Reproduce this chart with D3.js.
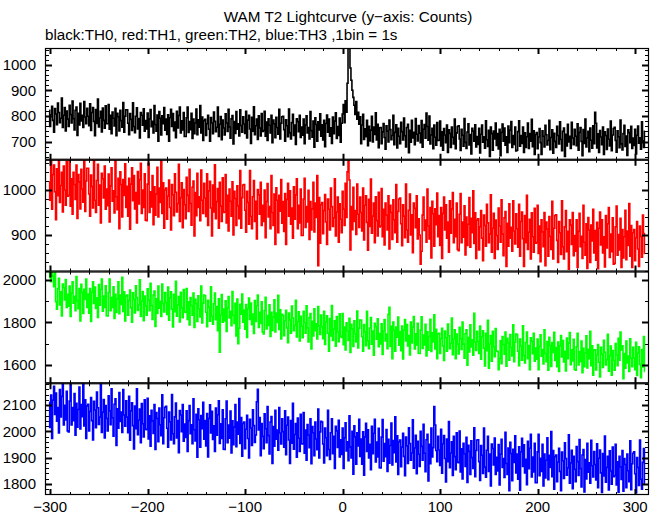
<!DOCTYPE html>
<html><head><meta charset="utf-8">
<script src="https://cdn.jsdelivr.net/npm/d3@7/dist/d3.min.js"></script>
<style>body{margin:0;background:#fff}svg text{font-family:"Liberation Sans",Arial,sans-serif;fill:#000}</style>
</head><body><svg id="c" width="661" height="515"></svg>
<script>
// time of first 1-s bin (seconds from trigger)
const tStart = -301;

const th0 = [
822,759,805,838,783,737,829,808,766,851,814,774,791,870,755,803,833,742,819,788,
759,842,806,773,859,790,746,822,835,724,811,765,850,781,803,755,857,796,770,830,
799,762,848,744,814,833,779,723,825,771,866,757,792,818,738,831,783,752,840,770,
770,845,748,803,731,816,791,761,830,723,811,797,742,822,782,756,853,737,799,824,
824,772,727,810,787,744,852,759,735,799,832,749,790,714,814,803,764,828,741,782,
749,812,716,789,825,758,779,734,841,767,741,804,702,817,791,726,801,770,833,745,
788,728,805,702,793,826,759,810,743,776,715,818,753,802,835,734,781,746,814,720,
720,793,835,736,778,747,811,712,788,731,773,827,727,785,756,841,734,796,704,782,
787,724,770,803,748,702,794,773,731,816,779,739,756,835,720,768,798,707,784,753,
726,809,773,740,826,757,713,789,802,691,778,732,817,748,770,722,824,763,737,797,
769,732,818,714,784,803,749,693,795,741,836,727,762,788,708,801,753,722,810,740,
743,818,721,776,704,789,764,734,803,696,784,770,715,795,755,729,826,710,772,797,
799,747,702,785,762,719,827,734,710,774,807,724,765,689,789,778,739,803,716,757,
725,788,692,765,801,734,755,710,817,743,717,780,678,793,767,702,777,746,809,721,
766,706,783,680,771,804,737,788,721,754,693,796,731,780,813,712,759,724,792,698,
772,808,845,774,860,815,928,1095,1070,988,940,901,873,842,806,857,788,815,768,797,
692,765,807,708,750,719,783,684,760,703,745,799,699,757,728,813,706,768,676,754,
755,692,738,771,716,670,762,741,699,784,747,707,724,803,688,736,766,675,752,721,
692,775,739,706,792,723,679,755,768,657,744,698,783,714,736,688,790,729,703,763,
733,696,782,678,748,767,713,812,759,705,800,691,726,752,672,765,717,686,774,704,
705,780,683,738,666,751,726,696,765,658,746,732,677,757,717,691,788,672,734,759,
762,710,665,748,725,682,790,697,673,737,770,687,728,652,752,741,702,766,679,720,
689,752,656,729,765,698,719,674,781,707,681,744,642,757,731,666,741,710,773,685,
731,671,748,645,736,769,702,753,686,719,658,761,696,745,778,677,724,689,757,663,
666,739,781,682,724,693,757,658,734,677,719,773,673,731,702,787,680,742,650,728,
735,672,718,751,696,650,742,721,679,764,727,687,704,783,668,716,746,655,732,701,
677,760,724,691,777,708,664,740,753,642,729,683,768,699,721,673,775,714,688,748,
721,684,770,666,736,755,701,645,747,693,788,679,714,740,660,753,705,674,762,692,
815,772,675,730,658,743,718,688,757,650,738,724,669,749,709,683,780,664,726,751,
756,704,659,742,719,676,784,691,667,731,764,681,722,646,746,735,696,760,673,714,
685,748,652,725,761,694,715,670,777,703,677,740];

const th1 = [
1018,977,1072,957,1034,1055,996,934,1047,987,1092,972,1010,1039,951,1053,1000,966,1063,986,
988,1071,964,1025,946,1039,1012,979,1055,937,1034,1018,958,1046,1002,973,1080,952,1020,1048,
1048,991,942,1033,1008,960,1079,977,950,1021,1057,966,1011,927,1037,1025,982,1053,957,1002,
965,1035,929,1009,1049,975,998,949,1067,985,956,1026,914,1040,1012,940,1023,988,1058,961,
1008,942,1026,913,1013,1049,976,1032,958,994,927,1041,969,1023,1059,948,1000,961,1036,933,
932,1013,1059,950,996,962,1032,923,1007,944,991,1050,940,1004,972,1065,948,1016,915,1000,
1004,935,986,1022,961,911,1012,989,943,1036,995,951,970,1057,930,983,1016,916,1001,967,
936,1028,988,952,1046,970,922,1006,1020,898,994,943,1037,961,985,932,1044,977,948,1015,
982,941,1036,921,998,1019,960,898,1011,951,1056,936,974,1003,915,1017,964,930,1027,950,
951,1034,927,988,909,1002,975,942,1018,900,997,981,921,1009,965,936,1043,915,983,1011,
1012,955,906,997,972,924,1043,941,914,985,1021,930,975,891,1001,989,946,1017,921,966,
930,1000,894,974,1014,940,963,914,1032,950,921,991,879,1005,977,905,988,953,1023,926,
974,908,992,879,979,1015,942,998,924,960,893,1007,935,989,1025,914,966,927,1002,899,
899,980,1026,917,963,929,999,890,974,911,958,1017,907,971,939,1032,832,983,882,967,
972,903,954,990,929,879,980,957,911,1004,963,919,938,1025,898,951,984,884,969,935,
905,997,957,921,1015,939,1040,1064,1022,867,963,912,1006,930,954,901,1013,946,917,984,
950,909,1004,889,966,987,928,866,979,919,1024,904,942,971,883,985,932,898,995,918,
920,1003,896,957,878,971,944,911,987,869,966,950,890,978,934,905,1012,884,952,980,
982,925,876,967,942,894,1013,911,884,955,991,900,945,861,971,959,916,987,891,936,
900,835,864,944,984,910,933,884,1002,920,891,961,849,975,947,875,958,923,993,896,
943,877,961,848,948,984,911,967,893,929,862,976,904,958,994,883,935,896,971,868,
865,946,992,883,929,895,965,856,940,877,924,983,873,937,905,998,881,949,848,933,
936,867,918,954,893,843,944,921,875,968,927,883,902,989,862,915,948,848,933,899,
868,960,920,884,978,902,854,938,952,830,926,875,969,893,917,864,976,909,880,947,
914,873,968,853,930,951,892,830,943,883,988,868,906,935,847,949,896,862,959,882,
883,966,859,920,841,934,907,874,950,832,929,913,853,941,897,868,975,847,915,943,
945,888,839,930,905,857,976,874,847,918,954,863,908,824,934,922,879,950,854,899,
864,934,828,908,948,874,897,848,966,884,855,925,826,939,911,839,922,887,957,860,
910,844,928,825,915,951,878,934,860,896,829,943,871,925,961,850,902,863,938,835,
837,918,964,855,901,867,937,828,912,849,896,955,845,909,877,970,853,921,828,905,
912,843,894,930,869,830,920,897,851,944,903,859];

const th2 = [
2012,2036,1992,2045,2018,1968,2038,1898,1862,1959,2008,1883,1945,1831,1981,1965,1906,2002,1871,1933,
1877,1972,1828,1938,1992,1891,1923,1855,2016,1904,1865,1960,1807,1980,1941,1843,1956,1909,2004,1871,
1934,1844,1960,1805,1942,1991,1890,1967,1866,1916,1824,1979,1881,1955,2005,1853,1924,1871,1973,1832,
1831,1941,2004,1855,1918,1871,1968,1819,1933,1847,1911,1992,1841,1929,1885,2013,1852,1945,1807,1924,
1929,1834,1904,1953,1870,1801,1940,1908,1845,1973,1917,1857,1882,2001,1828,1901,1946,1809,1925,1878,
1834,1959,1905,1855,1984,1880,1814,1929,1948,1781,1912,1843,1971,1867,1900,1828,1981,1890,1850,1941,
1894,1838,1967,1811,1916,1945,1863,1779,1933,1851,1994,1830,1883,1922,1802,1942,1869,1823,1955,1850,
1847,1960,1814,1897,1789,1917,1879,1834,1938,1777,1909,1888,1805,1926,1865,1826,1972,1798,1891,1929,
1926,1848,1780,1905,1871,1806,1968,1828,1792,1889,1938,1813,1875,1761,1911,1660,1836,1932,1801,1863,
1807,1902,1758,1868,1922,1821,1853,1785,1946,1834,1795,1890,1737,1910,1700,1773,1886,1839,1934,1801,
1858,1768,1884,1729,1866,1915,1814,1891,1790,1840,1748,1903,1805,1879,1929,1777,1848,1795,1897,1756,
1746,1856,1919,1770,1833,1786,1883,1734,1848,1762,1826,1907,1756,1844,1800,1928,1767,1860,1722,1839,
1833,1738,1808,1857,1774,1705,1844,1812,1749,1877,1821,1761,1786,1905,1732,1805,1850,1713,1829,1782,
1728,1853,1799,1749,1878,1774,1708,1823,1842,1675,1806,1737,1865,1761,1794,1722,1875,1784,1744,1835,
1780,1724,1853,1697,1802,1831,1749,1665,1819,1737,1880,1716,1769,1808,1688,1828,1755,1709,1841,1736,
1729,1842,1696,1779,1671,1799,1761,1716,1820,1659,1791,1770,1687,1808,1747,1708,1854,1680,1773,1811,
1811,1733,1665,1790,1756,1691,1853,1713,1677,1774,1823,1698,1760,1646,1796,1780,1721,1817,1686,1748,
1699,1794,1650,1760,1814,1713,1745,1677,1838,1871,1687,1782,1629,1802,1763,1665,1778,1731,1826,1693,
1757,1667,1783,1628,1765,1814,1713,1790,1689,1739,1647,1802,1704,1778,1828,1676,1747,1694,1796,1655,
1654,1764,1827,1678,1741,1694,1791,1642,1756,1670,1734,1815,1664,1752,1708,1836,1675,1768,1630,1747,
1749,1654,1724,1773,1690,1621,1760,1728,1665,1793,1737,1677,1702,1821,1648,1721,1766,1629,1745,1698,
1652,1777,1723,1673,1802,1698,1632,1747,1766,1599,1730,1661,1789,1685,1718,1646,1843,1708,1668,1759,
1710,1654,1783,1627,1732,1761,1679,1595,1749,1667,1810,1585,1699,1738,1618,1758,1685,1639,1771,1666,
1664,1578,1631,1714,1606,1734,1696,1651,1755,1594,1726,1705,1622,1743,1682,1643,1789,1615,1708,1746,
1743,1665,1597,1722,1688,1623,1785,1645,1609,1706,1755,1630,1692,1578,1728,1712,1653,1749,1618,1680,
1627,1722,1578,1688,1742,1641,1673,1605,1766,1654,1615,1710,1575,1730,1691,1593,1706,1659,1754,1621,
1682,1592,1708,1570,1690,1739,1638,1715,1614,1664,1572,1727,1629,1703,1753,1601,1672,1619,1721,1580,
1576,1686,1749,1600,1663,1616,1713,1564,1678,1592,1656,1737,1586,1674,1630,1758,1597,1690,1552,1669,
1672,1577,1647,1696,1613,1544,1683,1651,1588,1716,1660,1600,1625,1744,1571,1644,1689,1552,1668,1621,
1576,1701,1647,1597,1726,1622,1755,1671,1690,1535,1654,1585,1713,1609,1642,1570,1723,1632,1592,1683,
1634,1578,1707,1551,1656,1685,1603,1540,1673,1591,1734,1570];

const th3 = [
2111,2015,2138,1973,2119,2171,2064,2146,2039,2091,1994,2159,2055,2133,2186,2024,2099,2043,2152,2002,
1998,2115,2182,2024,2091,2041,2144,1985,2107,2016,2083,2169,2009,2102,2056,2192,2021,2120,1973,2097,
2103,2002,2076,2129,2041,1967,2114,2081,2014,2150,2090,2026,2054,2180,1996,2073,2121,1975,2098,2049,
2002,2135,2078,2025,2162,2052,1982,2103,2124,1946,2086,2012,2148,2038,2073,1996,2159,2062,2020,2116,
2054,1995,2133,1966,2078,2109,2022,1933,2096,2010,2162,1987,2043,2085,1957,2106,2029,1979,2120,2008,
2006,2126,1971,2059,1944,2080,2040,1992,2102,1931,2072,2049,1961,2089,2025,1984,2139,1953,2052,2092,
2095,2012,1940,2073,2036,1967,2140,1991,1953,2055,2108,1975,2041,1919,2079,2062,1999,2102,1963,2028,
1977,2078,1924,2041,2098,1991,2025,1953,2124,2006,1964,2065,1902,2086,2044,1940,2060,2010,2111,1970,
2041,1945,2068,1903,2049,2101,1994,2076,1969,2021,1924,2089,1985,2063,2116,1954,2029,1973,2082,1932,
1931,2048,2115,1957,2024,1974,2077,1918,2040,1949,2016,2102,1942,2035,1989,2125,1954,2053,1906,2030,
2035,1934,2008,2061,1973,1899,2046,2013,1946,2082,2022,1958,1986,2112,2160,2005,2053,1907,2030,1981,
1934,2067,2010,1957,2094,1984,1914,2035,2056,1878,2018,1944,2080,1970,2005,1928,2091,1994,1952,2048,
1999,1940,2078,1911,2023,2054,1967,1878,2041,1955,2107,1932,1988,2030,1902,2051,1974,1924,2065,1953,
1952,2072,1917,2005,1890,2026,1986,1938,2048,1877,2018,1995,1907,2035,1971,1930,2085,1899,1998,2038,
2035,1952,1880,2013,1976,1907,2080,1931,1893,1995,2048,1915,1981,1859,2019,2002,1939,2042,1903,1968,
1912,2013,1859,1976,2033,1926,1960,1888,2059,1941,1899,2000,1837,2021,1979,1875,1995,1945,2046,1905,
1971,1875,1998,1833,1979,2031,1924,2006,1899,1951,1854,2019,1915,1993,2046,1884,1959,1903,2012,1862,
1861,1978,2045,1887,1954,1904,2007,1848,1970,1879,1946,2032,1872,1965,1919,2055,1884,1983,1836,1960,
1967,1866,1940,1993,1905,1831,1978,1945,1878,2014,1954,1890,1918,2044,1860,1937,1985,1839,1962,1913,
1867,2000,1943,1890,2027,1917,1847,1968,1989,1811,1951,1877,2013,1903,1938,2094,2024,1927,1885,1981,
1929,1870,2008,1841,1953,1984,1897,1808,1971,1885,2037,1862,1918,1960,1832,1981,1904,1854,1995,1883,
1881,2001,1846,1934,1819,1955,1915,1867,1977,1806,1947,1924,1836,1964,1900,1859,2014,1828,1927,1967,
1968,1885,1813,1946,1909,1840,2013,1864,1826,1928,1981,1848,1914,1792,1952,1935,1872,1975,1836,1901,
1849,1950,1796,1913,1970,1863,1897,1825,1996,1878,1836,1937,1774,1958,1916,1812,1932,1882,1983,1842,
1914,1818,1941,1776,1922,1974,1867,1949,1842,1894,1797,1962,1858,1936,1989,1827,1902,1846,1955,1805,
1805,1922,1989,1831,1898,1848,1951,1792,1914,1823,1890,1976,1816,1909,1863,1999,1828,1927,1780,1904,
1910,1809,1883,1936,1848,1774,1921,1888,1821,1957,1897,1833,1861,1987,1803,1880,1928,1782,1905,1856,
1809,1942,1885,1832,1969,1859,1789,1910,1931,1770,1893,1819,1955,1845,1880,1803,1966,1869,1827,1923,
1874,1815,1953,1786,1898,1929,1842,1768,1916,1830,1982,1807,1863,1905,1777,1926,1849,1799,1940,1828,
1831,1951,1796,1884,1769,1905,1865,1817,1927,1772,1897,1874,1786,1914,1850,1809,1964,1778,1877,1917,
1922,1839,1767,1900,1863,1794,1967,1818,1780,1882,1935,1802];

const seriesValues = [th0, th1, th2, th3];
const seriesColors = ["#000000", "#ff0000", "#00ff00", "#0000ff"];
const yMajorTicks = [[700,800,900,1000],[900,1000],[1600,1800,2000],[1800,1900,2000,2100]];
const yMinorSteps = [20, 20, 100, 20];
const xMajorTicks = [-300,-200,-100,0,100,200,300];
const titleText = "WAM T2 Lightcurve (y\u2212axis: Counts)";
const subtitleText = "black:TH0, red:TH1, green:TH2, blue:TH3 ,1bin = 1s";

// ---- layout ----
const L = 45, R = 649, T = 48, B = 495;
const nP = seriesValues.length, ph = (B - T) / nP;
const yDomains = [[629,1066],[819,1067],[1514,2040],[1758,2183]];
const x = d3.scaleLinear().domain([-305.3, 314.2]).range([L, R]);
const xMinor = d3.range(-300, 320, 20);
const fmt = v => (v < 0 ? "\u2212" + Math.abs(v) : String(v));

const svg = d3.select("#c");
svg.append("rect").attr("width",661).attr("height",515).attr("fill","#fff");

svg.append("text").attr("x",348).attr("y",22).attr("text-anchor","middle")
  .style("font-size","15.3px").text(titleText);
svg.append("text").attr("x",45).attr("y",40).attr("text-anchor","start")
  .style("font-size","15.2px").text(subtitleText);

seriesValues.forEach((vals, p) => {
  const top = T + p*ph, bot = top + ph;
  const y = d3.scaleLinear().domain(yDomains[p]).range([bot, top]);
  const g = svg.append("g");
  const cid = "clip" + p;
  svg.append("clipPath").attr("id", cid).append("rect")
    .attr("x", L).attr("y", top).attr("width", R-L).attr("height", ph);

  const line = d3.line().x((d,i) => x(tStart + i)).y(d => y(d)).curve(d3.curveStep);
  g.append("path").datum(vals).attr("d", line).attr("fill","none")
    .attr("stroke", seriesColors[p]).attr("stroke-width", 1.6)
    .attr("clip-path", `url(#${cid})`);

  // frame
  g.append("rect").attr("x", L+0.5).attr("y", top+0.5).attr("width", R-L-1).attr("height", ph-1)
    .attr("fill","none").attr("stroke","#000").attr("stroke-width",1.2);

  // x ticks (top and bottom, inward)
  xMinor.forEach(v => {
    const maj = xMajorTicks.includes(v);
    const len = maj ? 6 : 3, sw = maj ? 2 : 1;
    const xx = Math.round(x(v)) + 0.5;
    g.append("line").attr("x1",xx).attr("x2",xx).attr("y1",top).attr("y2",top+len)
      .attr("stroke","#000").attr("stroke-width",sw);
    g.append("line").attr("x1",xx).attr("x2",xx).attr("y1",bot).attr("y2",bot-len)
      .attr("stroke","#000").attr("stroke-width",sw);
  });

  // y ticks (left and right, inward)
  const [d0, d1] = yDomains[p];
  const st = yMinorSteps[p];
  d3.range(Math.ceil(d0/st)*st, d1+0.001, st).forEach(v => {
    const maj = yMajorTicks[p].includes(v);
    const len = maj ? 7 : 4, sw = maj ? 2 : 1;
    const yy = Math.round(y(v)) + 0.5;
    g.append("line").attr("x1",L).attr("x2",L+len).attr("y1",yy).attr("y2",yy)
      .attr("stroke","#000").attr("stroke-width",sw);
    g.append("line").attr("x1",R).attr("x2",R-len).attr("y1",yy).attr("y2",yy)
      .attr("stroke","#000").attr("stroke-width",sw);
  });
  yMajorTicks[p].forEach(v => {
    g.append("text").attr("x",36).attr("y",y(v)).attr("dy","0.36em")
      .attr("text-anchor","end").style("font-size","15px").text(v);
  });
});

xMajorTicks.forEach(v => {
  svg.append("text").attr("x", x(v)).attr("y", 512).attr("text-anchor","middle")
    .style("font-size","15px").text(fmt(v));
});
</script></body></html>
